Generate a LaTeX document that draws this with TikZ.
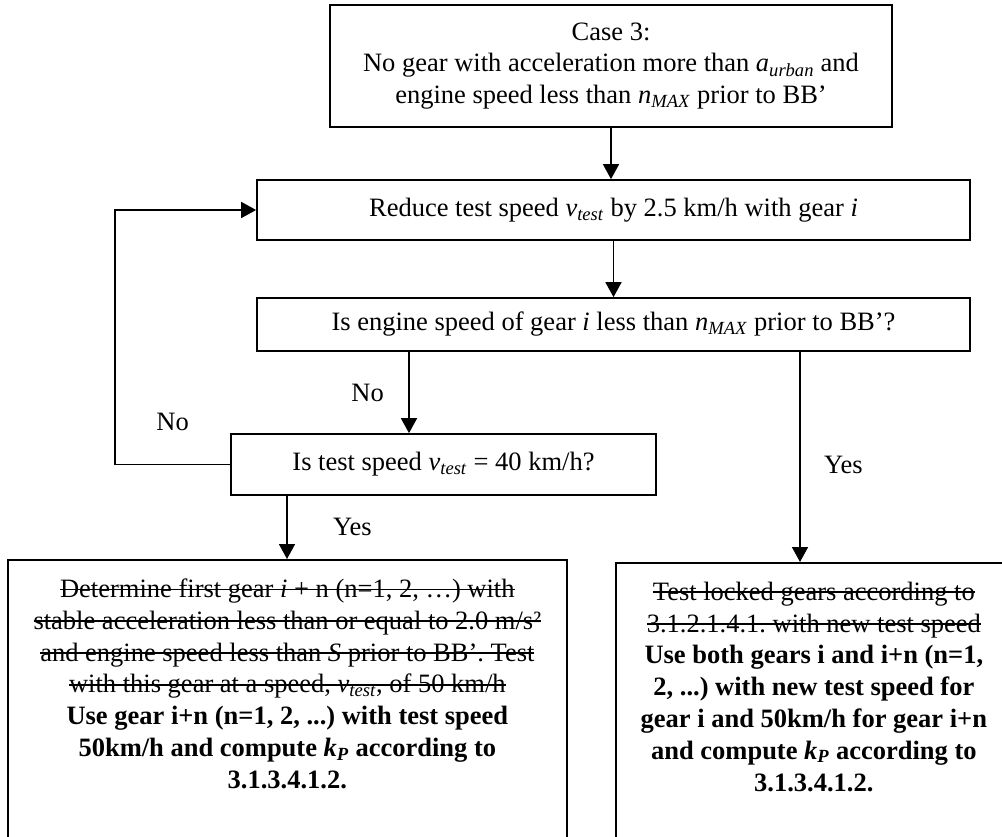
\documentclass[tikz,border=0pt]{standalone}
\usepackage{fontspec}
\setmainfont{Liberation Serif}
\usetikzlibrary{arrows.meta, positioning}
\frenchspacing

\newcommand{\itsub}[2]{\textit{#1}\textsubscript{\textit{#2}}}
\newsavebox{\crossbox}
\newcommand{\crossout}[1]{\leavevmode\sbox{\crossbox}{#1}\rlap{\usebox{\crossbox}}\rule[0.27em]{\wd\crossbox}{0.07em}}

\begin{document}
\begin{tikzpicture}[
  x=1pt, y=-1pt, every node/.style={align=center},
  box/.style={draw, line width=1.7pt, inner sep=0pt, font=\fontsize{26.5}{31.8}\selectfont},
  lbl/.style={font=\fontsize{26.5}{31.8}\selectfont},
  >={Triangle[length=15pt, width=16pt]}
]
\useasboundingbox (0,0) rectangle (1002,837);
\clip (0,0) rectangle (1002,837);
\node[box, minimum width=562pt, minimum height=122pt] (case) at (611,66) {Case 3:\\ No gear with acceleration more than \itsub{a}{urban} and\\ engine speed less than \itsub{n}{MAX} prior to BB’};
\node[box, minimum width=713pt, minimum height=60pt] (reduce) at (613.5,210) {Reduce test speed \itsub{v}{test} by 2.5 km/h with gear \textit{i}};
\node[box, minimum width=713pt, minimum height=53pt] (ncheck) at (613.5,324.5) {Is engine speed of gear \textit{i} less than \itsub{n}{MAX} prior to BB’?};
\node[box, minimum width=425pt, minimum height=61pt] (vcheck) at (443.5,464.5) {Is test speed \itsub{v}{test} = 40 km/h?};
\node[box, anchor=north west, inner xsep=4pt, inner ysep=19pt] (onegear) at (7,559) {\parbox[c][300pt][t]{551pt}{\centering
  \crossout{Determine first gear \textit{i} + n (n=1, 2, …) with}\\
  \crossout{stable acceleration less than or equal to 2.0 m/s²}\\
  \crossout{and engine speed less than \textit{S} prior to BB’. Test}\\
  \crossout{with this gear at a speed, \itsub{v}{test}, of 50 km/h}\\
  \textbf{Use gear i+n (n=1, 2, ...) with test speed}\\
  \textbf{50km/h and compute \itsub{k}{P} according to}\\
  \textbf{3.1.3.4.1.2.}}};
\node[box, anchor=north west, inner xsep=8pt, inner ysep=19pt] (bothgears) at (615,562) {\parbox[c][300pt][t]{380pt}{\centering
  \crossout{Test locked gears according to}\\
  \crossout{3.1.2.1.4.1. with new test speed}\\
  \textbf{Use both gears i and i+n (n=1,}\\
  \textbf{2, ...) with new test speed for}\\
  \textbf{gear i and 50km/h for gear i+n}\\
  \textbf{and compute \itsub{k}{P} according to}\\
  \textbf{3.1.3.4.1.2.}}};
\coordinate (noline) at (409,0);
\coordinate (yesleft) at (287,0);
\coordinate (yesright) at (800,0);
\draw[->,line width=1.7pt] (case.south) -- (case.south |- reduce.north);
\draw[->,line width=1.7pt] (reduce.south) -- (reduce.south |- ncheck.north);
\draw[->,line width=1.7pt] (ncheck.south -| noline) -- (vcheck.north -| noline) node[midway, left=21pt, lbl] {No};
\draw[->,line width=1.7pt] (vcheck.south -| yesleft) -- (onegear.north -| yesleft) node[midway, right=42pt, lbl] {Yes};
\draw[->,line width=1.7pt] (ncheck.south -| yesright) -- (bothgears.north -| yesright) node[pos=0.54, right=20pt, lbl] {Yes};
\draw[->,line width=1.7pt] (vcheck.west) -- ++(-115,0) node[midway, above=30pt, lbl] {No} |- (reduce.west);
\end{tikzpicture}
\end{document}
